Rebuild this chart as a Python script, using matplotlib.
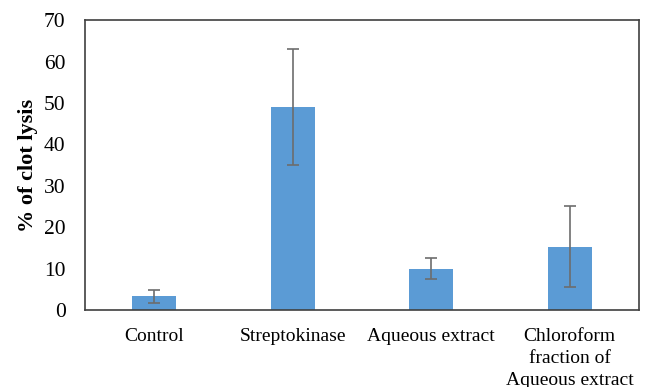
import numpy as np
import matplotlib.pyplot as plt

plt.rcParams['font.family'] = ['Liberation Serif', 'DejaVu Serif']

groups = ['Control', 'Streptokinase', 'Aqueous extract',
          'Chloroform\nfraction of\nAqueous extract']
lysis = [3.3, 49.0, 10.0, 15.3]
sd = [1.5, 14.0, 2.6, 9.7]

fig = plt.figure(figsize=(6.45, 3.87), dpi=100)
ax = fig.add_axes([0.1318, 0.199, 0.859, 0.749])

x = np.arange(len(groups))
ax.bar(x, lysis, width=0.32, color='#5B9BD5', zorder=2)
ax.errorbar(x, lysis, yerr=sd, fmt='none', ecolor='#6d6d6d',
            elinewidth=1.2, capsize=4, capthick=1.2, zorder=3)

ax.set_xlim(-0.5, 3.5)
ax.set_ylim(0, 70)
ax.set_yticks(range(0, 71, 10))
ax.set_xticks(x)
ax.set_xticklabels(groups, fontsize=14, linespacing=1.4, va='top')
ax.tick_params(axis='y', labelsize=15.5, length=0, pad=14)
ax.tick_params(axis='x', length=0, pad=13)
ax.set_ylabel('% of clot lysis', fontsize=16, fontweight='bold', labelpad=4)
for s in ax.spines.values():
    s.set_color('#404040')
    s.set_linewidth(1.2)

fig.savefig('out.png', dpi=100)
